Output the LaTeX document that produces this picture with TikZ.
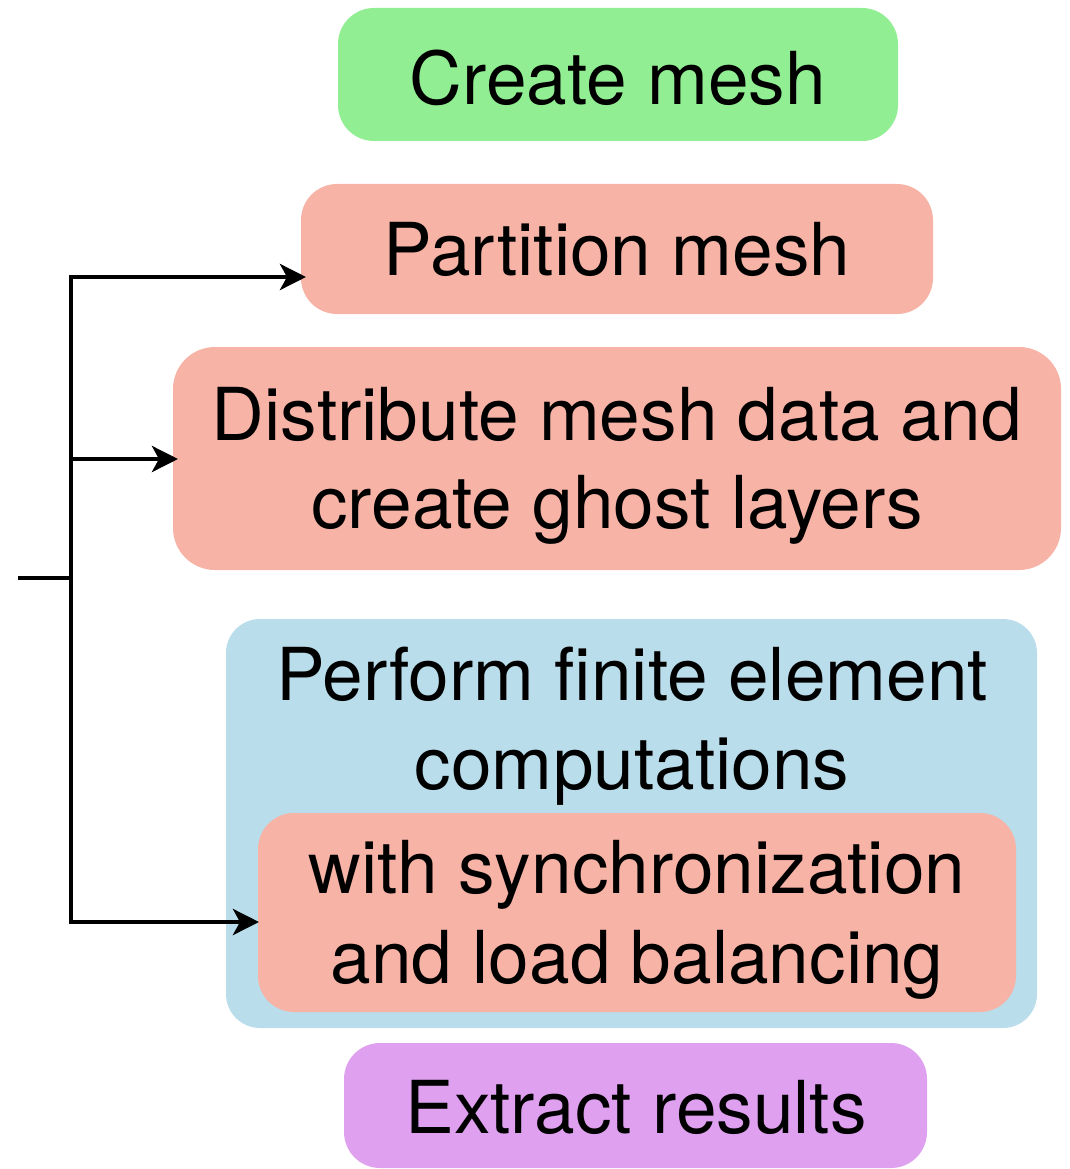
\documentclass[tikz,border=0pt]{standalone}
\usepackage{fontspec}
\setmainfont{TeX Gyre Heros}
\usetikzlibrary{arrows.meta}
\definecolor{cgreen}{HTML}{92EE92}
\definecolor{csalmon}{HTML}{F7B3A6}
\definecolor{cblue}{HTML}{B9DDEA}
\definecolor{cviolet}{HTML}{DFA0EF}
\tikzset{
  box/.style={rounded corners=#1, inner sep=0pt, draw=none},
  lbl/.style={font=\fontsize{73}{88}\selectfont, align=center, inner sep=0pt, anchor=base},
  conn/.style={line width=4.5pt, -{Stealth[length=26pt,width=26pt,inset=7pt]}},
  plain/.style={line width=4.5pt}
}
\begin{document}
\begin{tikzpicture}[x=1pt,y=-1pt]
\useasboundingbox (0,0) rectangle (1070,1169);
% boxes
\fill[cgreen,box=36pt] (338,8) rectangle (898,141);
\fill[csalmon,box=36pt] (301,184) rectangle (933,314);
\fill[csalmon,box=42pt] (173,347) rectangle (1061,570);
\fill[cblue,box=34pt] (226,619) rectangle (1037,1028);
\fill[csalmon,box=36pt] (258,813) rectangle (1016,1012);
\fill[cviolet,box=36pt] (344,1043) rectangle (927,1168);
% named anchors for connectors
\coordinate (partW) at (306,277);
\coordinate (distW) at (178,459);
\coordinate (syncW) at (259,922);
\coordinate (top) at (71,277);
\coordinate (mid) at (71,459);
\coordinate (bot) at (71,922);
\coordinate (branch) at (73,578);
\coordinate (stub) at (18,578);
% texts
\node[lbl] (t1) at (618,105) {Create mesh};
\node[lbl] (t2) at (617,275) {Partition mesh};
\node[lbl] (t3) at (617,440) {Distribute mesh data and};
\node[lbl] (t3b) at (617,528) {create ghost layers};
\node[lbl] (t4) at (632,700) {Perform finite element};
\node[lbl] (t4b) at (632,789) {computations};
\node[lbl] (t5) at (637,893) {with synchronization};
\node[lbl] (t5b) at (637,983) {and load balancing};
\node[lbl] (t6) at (636,1133) {Extract results};
% connectors
\draw[plain] (stub) -- (branch);
\draw[conn, line cap=rect] (bot) -- (top) -- (partW);
\draw[conn] (mid) -- (distW);
\draw[conn] (bot) -- (syncW);
\end{tikzpicture}
\end{document}
